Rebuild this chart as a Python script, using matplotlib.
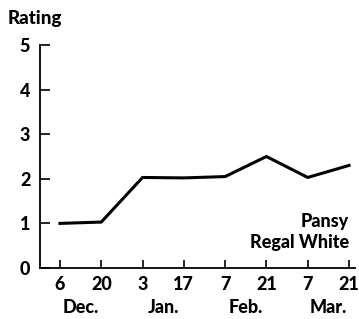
import matplotlib
matplotlib.use("Agg")
import matplotlib.pyplot as plt

# values
days = ["6", "20", "3", "17", "7", "21", "7", "21"]
months = ["Dec.", "Jan.", "Feb.", "Mar."]
rating = [1.0, 1.03, 2.03, 2.02, 2.05, 2.5, 2.03, 2.3]

plt.rcParams['font.family'] = ['Lato', 'DejaVu Sans']
plt.rcParams['font.weight'] = 'black'

fig = plt.figure(figsize=(3.59, 3.19), dpi=100)
ax = fig.add_axes([40 / 359, 51 / 319, 315 / 359, 223 / 319])

x = list(range(len(days)))
ax.plot(x, rating, color='black', lw=2.2, solid_joinstyle='miter')

ax.set_xlim(-0.484, 7.145)
ax.set_ylim(0, 5)
ax.set_xticks(x)
ax.set_xticklabels(days)
ax.set_yticks(range(6))

for s in ['top', 'right']:
    ax.spines[s].set_visible(False)
for s in ['left', 'bottom']:
    ax.spines[s].set_linewidth(1.3)

ax.tick_params(axis='y', direction='in', length=7, width=1.2, pad=7, labelsize=13)
ax.tick_params(axis='x', direction='in', length=5.5, width=1.2, pad=6, labelsize=13)

# month labels between each pair of day ticks
for i, m in enumerate(months):
    ax.text(2 * i + 0.5, -0.2, m, transform=ax.get_xaxis_transform(),
            ha='center', va='baseline', fontsize=13)

fig.text(8 / 359, 1 - 24 / 319, "Rating", ha='left', va='baseline', fontsize=13.5)

ax.text(7.0, 0.92, "Pansy", ha='right', va='baseline', fontsize=13)
ax.text(7.0, 0.45, "Regal White", ha='right', va='baseline', fontsize=13)

fig.savefig("out.png", dpi=100)
